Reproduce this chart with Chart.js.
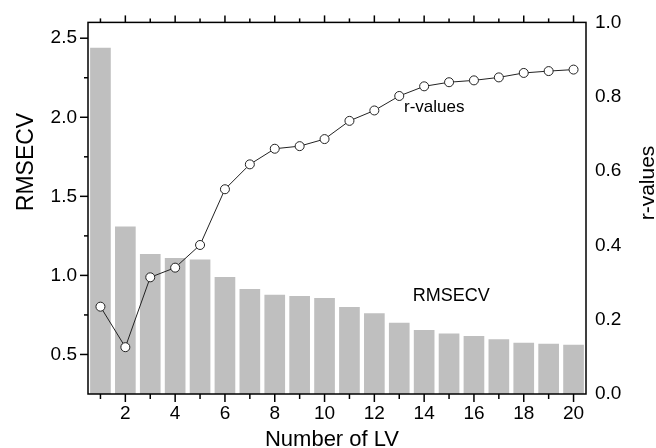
<!DOCTYPE html>
<html>
<head>
<meta charset="utf-8">
<script src="https://cdn.jsdelivr.net/npm/chart.js@4/dist/chart.umd.min.js"></script>
<style>
  body { margin: 0; background: #fff; }
  canvas { display: block; }
</style>
</head>
<body>
<canvas id="lvChart" width="656" height="448"></canvas>
<script>
// Data
const lvCounts = [1, 2, 3, 4, 5, 6, 7, 8, 9, 10, 11, 12, 13, 14, 15, 16, 17, 18, 19, 20];
const rmsecv = [2.44, 1.31, 1.135, 1.11, 1.10, 0.99, 0.914, 0.878, 0.87, 0.857,
                0.80, 0.76, 0.70, 0.655, 0.633, 0.617, 0.597, 0.574, 0.568, 0.561];
const rValues = [0.235, 0.126, 0.314, 0.34, 0.401, 0.551, 0.618, 0.66, 0.667, 0.686,
                 0.735, 0.763, 0.802, 0.828, 0.839, 0.844, 0.852, 0.864, 0.869, 0.873];
const yTicks = [0.5, 1.0, 1.5, 2.0, 2.5];
const yMinorTicks = [0.75, 1.25, 1.75, 2.25];
const rTicks = [0.0, 0.2, 0.4, 0.6, 0.8, 1.0];

const FONT = "'Liberation Sans', Arial, sans-serif";
Chart.defaults.font.family = FONT;
Chart.defaults.color = "#000";

function strokeLine(ctx, x1, y1, x2, y2) {
  ctx.beginPath();
  ctx.moveTo(x1, y1);
  ctx.lineTo(x2, y2);
  ctx.stroke();
}

function drawText(ctx, text, x, y, size, angle) {
  ctx.save();
  ctx.translate(x, y);
  if (angle) ctx.rotate(angle);
  ctx.font = `${size}px ${FONT}`;
  ctx.fillStyle = "#000";
  ctx.textBaseline = "alphabetic";
  ctx.fillText(text, 0, 0);
  ctx.restore();
}

// frame, tick marks, titles and in-plot labels
const decorations = {
  id: "decorations",
  afterDatasetsDraw(chart) {
    const { ctx, chartArea: a, scales } = chart;
    ctx.save();
    ctx.strokeStyle = "#000";
    ctx.lineWidth = 1.5;

    lvCounts.forEach((n, i) => {
      const px = scales.x.getPixelForValue(i);
      const major = n % 2 === 0;
      strokeLine(ctx, px, a.bottom, px, a.bottom + (major ? 8 : 5));
      strokeLine(ctx, px, a.top, px, a.top - (major ? 7 : 4));
    });
    yTicks.forEach(v => {
      const py = scales.y.getPixelForValue(v);
      strokeLine(ctx, a.left - 8, py, a.left, py);
    });
    yMinorTicks.forEach(v => {
      const py = scales.y.getPixelForValue(v);
      strokeLine(ctx, a.left - 4, py, a.left, py);
    });

    ctx.strokeRect(a.left, a.top, a.right - a.left, a.bottom - a.top);
    ctx.restore();
  },
  afterDraw(chart) {
    const { ctx, chartArea: a, scales } = chart;

    // axis titles
    ctx.save();
    ctx.textAlign = "center";
    drawText(ctx, "RMSECV", a.left - 55, 162, 23, -Math.PI / 2);
    drawText(ctx, "r-values", a.right + 68, 183, 21, -Math.PI / 2);
    drawText(ctx, "Number of LV", 332, a.bottom + 52, 22, 0);
    ctx.restore();

    // labels inside the plot
    ctx.save();
    ctx.textAlign = "left";
    drawText(ctx, "r-values", scales.x.getPixelForValue(12.19), scales.y1.getPixelForValue(0.759), 17, 0);
    drawText(ctx, "RMSECV", scales.x.getPixelForValue(12.54), scales.y1.getPixelForValue(0.25), 18, 0);
    ctx.restore();
  }
};

const ctx = document.getElementById("lvChart").getContext("2d");

new Chart(ctx, {
  type: "bar",
  data: {
    labels: lvCounts,
    datasets: [
      {
        type: "line",
        label: "r-values",
        data: rValues,
        yAxisID: "y1",
        borderColor: "#222",
        borderWidth: 1,
        pointRadius: 4.5,
        pointBackgroundColor: "#fff",
        pointBorderColor: "#222",
        pointBorderWidth: 1,
        tension: 0,
        order: 0,
      },
      {
        label: "RMSECV",
        data: rmsecv,
        yAxisID: "y",
        backgroundColor: "#bfbfbf",
        barPercentage: 0.83,
        categoryPercentage: 1.0,
        order: 1,
      },
    ],
  },
  options: {
    responsive: false,
    animation: false,
    layout: { padding: { top: 22, left: 0, right: 0, bottom: 0 } },
    plugins: {
      legend: { display: false },
      tooltip: { enabled: false },
    },
    scales: {
      x: {
        type: "category",
        offset: true,
        grid: { display: false, drawTicks: false },
        border: { display: false },
        ticks: {
          autoSkip: false,
          maxRotation: 0,
          padding: 8,
          font: { size: 19 },
          callback: function (value, index) {
            return lvCounts[index] % 2 === 0 ? String(lvCounts[index]) : "";
          },
        },
        afterFit: s => { s.height = 54; },
      },
      y: {
        position: "left",
        min: 0.25,
        max: 2.6,
        grid: { display: false, drawTicks: false },
        border: { display: false },
        afterBuildTicks: s => { s.ticks = yTicks.map(v => ({ value: v })); },
        ticks: {
          padding: 11,
          font: { size: 19 },
          callback: v => v.toFixed(1),
        },
        afterFit: s => { s.width = 88; },
      },
      y1: {
        position: "right",
        min: 0,
        max: 1,
        grid: { display: false, drawTicks: false },
        border: { display: false },
        afterBuildTicks: s => { s.ticks = rTicks.map(v => ({ value: v })); },
        ticks: {
          padding: 9,
          font: { size: 19 },
          callback: v => v.toFixed(1),
        },
        afterFit: s => { s.width = 70; },
      },
    },
  },
  plugins: [decorations],
});
</script>
</body>
</html>
